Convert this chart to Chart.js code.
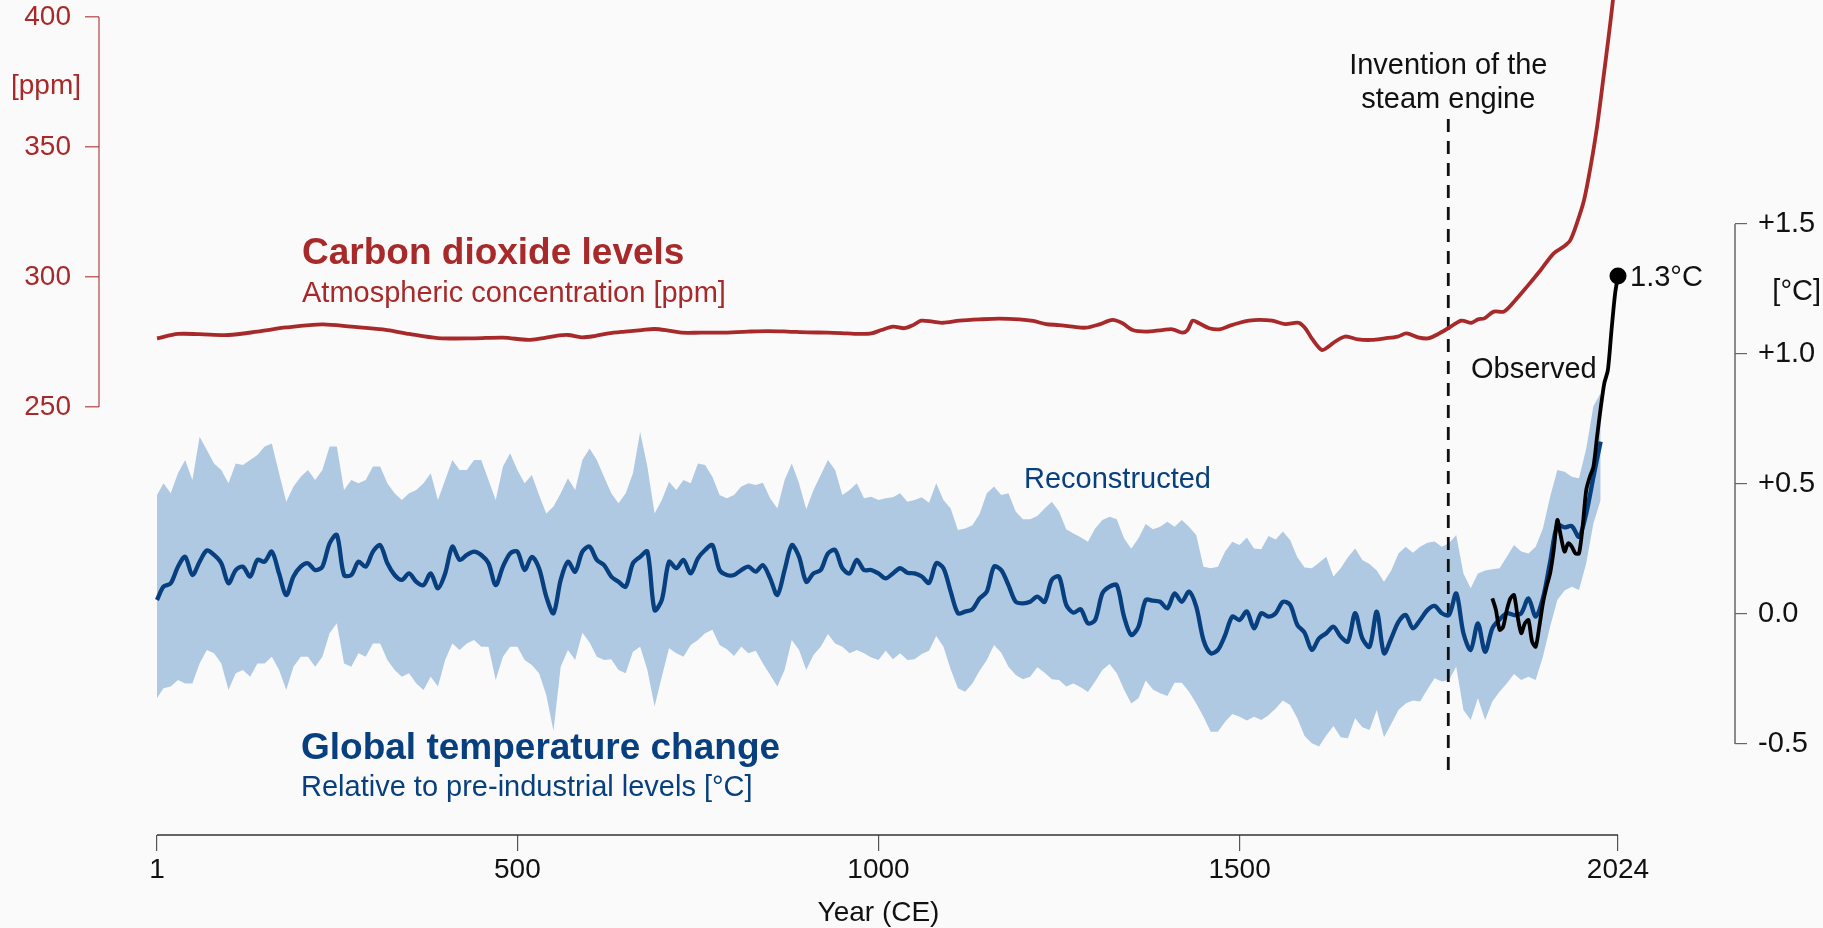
<!DOCTYPE html>
<html>
<head>
<meta charset="utf-8">
<title>Carbon dioxide levels and global temperature change</title>
<script src="https://cdn.jsdelivr.net/npm/chart.js@4.4.1/dist/chart.umd.min.js"></script>
<style>
	html,body{margin:0;padding:0;background:#fafafa;}
	#grafico{display:block;}
</style>
</head>
<body>
<canvas id="grafico" width="1823" height="928"></canvas>
<script>
// reconstruction, read every 10 years off the picture
const reconYears = [1,10,20,30,40,50,60,70,80,90,
	100,110,120,130,140,150,160,170,180,190,200,210,220,230,240,250,260,270,280,290,
	300,310,320,330,340,350,360,370,380,390,400,410,420,430,440,450,460,470,480,490,
	500,510,520,530,540,550,560,570,580,590,600,610,620,630,640,650,660,670,680,690,
	700,710,720,730,740,750,760,770,780,790,800,810,820,830,840,850,860,870,880,890,
	900,910,920,930,940,950,960,970,980,990,1000,1010,1020,1030,1040,1050,1060,1070,1080,1090,
	1100,1110,1120,1130,1140,1150,1160,1170,1180,1190,1200,1210,1220,1230,1240,1250,1260,1270,1280,1290,
	1300,1310,1320,1330,1340,1350,1360,1370,1380,1390,1400,1410,1420,1430,1440,1450,1460,1470,1480,1490,
	1500,1510,1520,1530,1540,1550,1560,1570,1580,1590,1600,1610,1620,1630,1640,1650,1660,1670,1680,1690,
	1700,1710,1720,1730,1740,1750,1760,1770,1780,1790,1800,1810,1820,1830,1840,1850,1860,1870,1880,1890,
	1900,1910,1920,1930,1940,1950,1960,1970,1980,1990,2000];

const reconMean = [0.054,0.105,0.118,0.182,0.220,0.150,0.201,0.244,0.227,0.195,
	0.118,0.169,0.182,0.144,0.208,0.201,0.240,0.156,0.073,0.144,
	0.182,0.195,0.169,0.182,0.272,0.304,0.150,0.150,0.201,0.182,
	0.240,0.265,0.195,0.150,0.131,0.156,0.124,0.111,0.156,0.099,
	0.156,0.259,0.208,0.227,0.240,0.227,0.195,0.111,0.182,0.233,
	0.240,0.169,0.220,0.176,0.067,0.003,0.131,0.201,0.163,0.240,
	0.259,0.208,0.188,0.144,0.124,0.105,0.195,0.220,0.240,0.015,
	0.054,0.201,0.176,0.208,0.156,0.214,0.246,0.265,0.169,0.150,
	0.150,0.169,0.182,0.163,0.188,0.137,0.073,0.169,0.265,0.220,
	0.124,0.156,0.169,0.233,0.246,0.176,0.156,0.208,0.169,0.169,
	0.156,0.137,0.156,0.176,0.159,0.156,0.144,0.120,0.195,0.176,
	0.086,0.003,0.009,0.018,0.060,0.086,0.182,0.169,0.111,0.047,
	0.041,0.047,0.067,0.047,0.131,0.144,0.035,0.005,0.018,-0.036,
	-0.023,0.079,0.105,0.111,-0.010,-0.081,-0.049,0.054,0.051,0.047,
	0.022,0.079,0.047,0.086,0.028,-0.100,-0.151,-0.138,-0.081,-0.010,
	-0.023,0.010,-0.055,0.003,-0.010,0.003,0.047,0.035,-0.042,-0.072,
	-0.138,-0.094,-0.074,-0.049,-0.087,-0.106,0.003,-0.094,-0.126,0.009,
	-0.151,-0.094,-0.030,-0.004,-0.055,-0.023,0.015,0.031,0.003,-0.004,
	0.079,-0.074,-0.138,-0.036,-0.145,-0.055,-0.021,0.003,-0.004,0.003,
	0.060,-0.010,0.060,0.200,0.342,0.333,0.338,0.297,0.387,0.528,
	0.663];

const reconUpper = [0.458,0.503,0.464,0.541,0.592,0.515,0.682,0.631,0.579,0.554,
	0.503,0.579,0.573,0.592,0.612,0.644,0.656,0.541,0.432,0.490,
	0.528,0.554,0.515,0.554,0.644,0.644,0.477,0.515,0.503,0.515,
	0.567,0.567,0.503,0.464,0.438,0.464,0.477,0.503,0.541,0.438,
	0.515,0.592,0.554,0.554,0.592,0.592,0.515,0.438,0.567,0.618,
	0.554,0.503,0.535,0.458,0.387,0.413,0.464,0.522,0.477,0.592,
	0.637,0.592,0.528,0.464,0.426,0.464,0.541,0.700,0.567,0.387,
	0.438,0.509,0.477,0.515,0.503,0.579,0.573,0.528,0.458,0.445,
	0.458,0.490,0.503,0.496,0.505,0.445,0.406,0.515,0.579,0.503,
	0.403,0.477,0.535,0.592,0.554,0.458,0.477,0.503,0.445,0.451,
	0.438,0.445,0.449,0.464,0.432,0.438,0.449,0.428,0.503,0.438,
	0.406,0.323,0.329,0.341,0.385,0.464,0.490,0.458,0.464,0.394,
	0.364,0.364,0.377,0.406,0.432,0.394,0.326,0.310,0.295,0.278,
	0.329,0.362,0.374,0.364,0.291,0.251,0.291,0.346,0.326,0.336,
	0.355,0.336,0.362,0.336,0.304,0.182,0.176,0.182,0.240,0.278,
	0.265,0.294,0.252,0.249,0.300,0.287,0.317,0.285,0.218,0.179,
	0.176,0.197,0.220,0.144,0.176,0.218,0.252,0.208,0.192,0.167,
	0.124,0.167,0.233,0.259,0.236,0.259,0.274,0.279,0.259,0.272,
	0.304,0.156,0.099,0.156,0.167,0.172,0.176,0.220,0.265,0.240,
	0.233,0.259,0.329,0.451,0.554,0.547,0.528,0.522,0.637,0.800,
	0.850];

const reconLower = [-0.324,-0.286,-0.279,-0.254,-0.267,-0.267,-0.190,-0.138,-0.151,-0.190,
	-0.292,-0.228,-0.215,-0.241,-0.190,-0.190,-0.164,-0.215,-0.292,-0.203,
	-0.164,-0.164,-0.203,-0.164,-0.074,-0.036,-0.190,-0.203,-0.151,-0.164,
	-0.113,-0.113,-0.177,-0.215,-0.241,-0.228,-0.267,-0.292,-0.241,-0.279,
	-0.177,-0.113,-0.138,-0.113,-0.100,-0.126,-0.126,-0.254,-0.164,-0.126,
	-0.126,-0.177,-0.196,-0.228,-0.312,-0.450,-0.203,-0.138,-0.177,-0.072,
	-0.110,-0.164,-0.177,-0.174,-0.215,-0.228,-0.145,-0.126,-0.215,-0.356,
	-0.241,-0.132,-0.151,-0.164,-0.119,-0.100,-0.074,-0.061,-0.119,-0.136,
	-0.162,-0.126,-0.151,-0.141,-0.190,-0.235,-0.279,-0.215,-0.100,-0.138,
	-0.215,-0.158,-0.126,-0.077,-0.113,-0.126,-0.151,-0.138,-0.151,-0.167,
	-0.177,-0.141,-0.174,-0.151,-0.177,-0.174,-0.154,-0.141,-0.085,-0.126,
	-0.213,-0.286,-0.299,-0.267,-0.218,-0.177,-0.119,-0.149,-0.203,-0.235,
	-0.251,-0.241,-0.205,-0.226,-0.251,-0.254,-0.279,-0.267,-0.282,-0.300,
	-0.260,-0.215,-0.192,-0.228,-0.290,-0.344,-0.324,-0.256,-0.290,-0.305,
	-0.315,-0.264,-0.264,-0.299,-0.344,-0.395,-0.453,-0.453,-0.414,-0.385,
	-0.395,-0.410,-0.395,-0.408,-0.389,-0.363,-0.333,-0.350,-0.401,-0.469,
	-0.497,-0.510,-0.467,-0.431,-0.474,-0.478,-0.401,-0.436,-0.446,-0.369,
	-0.474,-0.423,-0.369,-0.344,-0.333,-0.337,-0.290,-0.247,-0.260,-0.254,
	-0.203,-0.369,-0.408,-0.324,-0.408,-0.337,-0.299,-0.267,-0.231,-0.254,
	-0.241,-0.254,-0.164,-0.049,0.054,0.090,0.105,0.092,0.195,0.349,
	0.438];

// instrumental record
const obsYears = [1850,1855,1860,1865,1870,1875,1880,1885,1890,1895,1900,1905,1910,1915,1920,1925,1930,1935,
	1940,1945,1950,1955,1960,1965,1970,1975,1980,1985,1990,1995,2000,2005,2010,2015,2020,2024];
const obsTemp = [0.060,0.015,-0.061,-0.049,0.015,0.060,0.073,-0.010,-0.074,-0.036,-0.023,-0.106,-0.126,-0.049,
	0.041,0.105,0.156,0.246,0.362,0.297,0.240,0.272,0.259,0.233,0.233,0.336,0.477,0.528,0.567,0.682,
	0.791,0.887,0.938,1.092,1.233,1.300];

// atmospheric CO2 [ppm]
const co2Years = [1,30,60,100,140,180,230,270,320,350,390,440,480,515,533,552,570,589,607,626,649,672,690,709,727,
	754,782,819,847,874,902,930,957,976,990,1004,1020,1036,1048,1059,1075,1089,1112,1140,1167,1195,1214,1232,1250,
	1269,1287,1306,1324,1338,1352,1370,1393,1407,1421,1428,1435,1444,1458,1472,1486,1500,1513,1527,1545,1563,1582,
	1591,1600,1614,1623,1632,1646,1664,1683,1701,1719,1731,1747,1761,1775,1789,1807,1821,1830,1839,1852,1866,1880,
	1898,1917,1935,1949,1958,1967,1977,1986,1995,2004,2011,2016,2020,2024];
const co2Ppm = [276.4,278.1,278.0,277.7,279.0,280.6,281.8,280.9,279.6,278.1,276.5,276.4,276.7,275.8,276.4,277.3,277.7,
	276.8,277.3,278.3,279.0,279.6,280.0,279.4,278.6,278.6,278.6,279.0,279.2,279.0,278.7,278.6,278.3,278.1,278.3,279.6,
	280.9,280.3,281.5,283.2,282.8,282.4,283.2,283.7,284.0,283.7,283.1,281.9,281.5,280.9,280.5,281.8,283.5,282.2,279.6,
	279.0,279.6,279.9,278.6,279.6,283.2,282.2,280.3,279.9,281.2,282.4,283.2,283.5,283.2,281.9,282.4,280.3,276.4,271.9,
	273.2,275.1,277.1,276.0,275.8,276.4,277.1,278.3,276.8,276.4,278.1,280.3,283.2,282.4,283.7,284.1,286.7,286.7,290.5,
	296.3,302.7,309.1,311.7,314.2,320.6,329.6,342.4,357.8,377.0,392.4,404.0,414.0,421.0];

const xTicks = [1,500,1000,1500,2024];
const co2Ticks = [250,300,350,400];
const tempTicks = [-0.5,0,0.5,1,1.5];
const steamYear = 1789;
const steamSpan = [-0.6,1.91];

const fuente = "'Liberation Sans', Arial, Helvetica, sans-serif";
const rojo = '#a8292a';
const azul = '#083f7e';
const banda = '#b0c9e3';

function puntos(xs, ys){
	return xs.map((v,i)=>({x:v, y:ys[i]}));
}

let fondo = {
	id:'fondo',
	beforeDraw(chart){
		let ctx = chart.ctx;
		ctx.save();
		ctx.fillStyle = '#fafafa';
		ctx.fillRect(0,0,chart.width,chart.height);
		ctx.restore();
	}
};

// axis lines only span the tick range, plus all the annotations
let rotulos = {
	id:'rotulos',
	afterDraw(chart){
		let ctx = chart.ctx;
		let a = chart.chartArea;
		let sx = chart.scales.x, sc = chart.scales.co2, st = chart.scales.temp;
		ctx.save();
		ctx.lineWidth = 1.5;
		ctx.strokeStyle = 'rgba(168,41,42,0.7)';
		ctx.beginPath();
		ctx.moveTo(a.left, sc.getPixelForValue(400));
		ctx.lineTo(a.left, sc.getPixelForValue(250));
		ctx.stroke();
		ctx.strokeStyle = '#666';
		ctx.beginPath();
		ctx.moveTo(a.right, st.getPixelForValue(1.5));
		ctx.lineTo(a.right, st.getPixelForValue(-0.5));
		ctx.stroke();
		ctx.strokeStyle = '#333';
		ctx.beginPath();
		ctx.moveTo(sx.getPixelForValue(1), a.bottom);
		ctx.lineTo(sx.getPixelForValue(2024), a.bottom);
		ctx.stroke();

		ctx.textBaseline = 'alphabetic';
		ctx.textAlign = 'left';
		ctx.fillStyle = rojo;
		ctx.font = 'bold 37px ' + fuente;
		ctx.fillText('Carbon dioxide levels', 302, 264);
		ctx.font = '29px ' + fuente;
		ctx.fillText('Atmospheric concentration [ppm]', 302, 302);
		ctx.textAlign = 'center';
		ctx.font = '28px ' + fuente;
		ctx.fillText('[ppm]', 46, 94);

		ctx.textAlign = 'left';
		ctx.fillStyle = azul;
		ctx.font = 'bold 37px ' + fuente;
		ctx.fillText('Global temperature change', 301, 759);
		ctx.font = '29px ' + fuente;
		ctx.fillText('Relative to pre-industrial levels [°C]', 301, 796);
		ctx.fillText('Reconstructed', 1024, 488);

		ctx.fillStyle = '#111';
		ctx.fillText('Observed', 1471, 378);
		ctx.fillText('1.3°C', sx.getPixelForValue(2024) + 12, st.getPixelForValue(1.3) + 10);
		ctx.textAlign = 'right';
		ctx.fillText('[°C]', 1821, 300);
		ctx.textAlign = 'center';
		let xs = sx.getPixelForValue(steamYear);
		ctx.fillText('Invention of the', xs, 74);
		ctx.fillText('steam engine', xs, 108);
		ctx.font = '28px ' + fuente;
		ctx.fillText('Year (CE)', sx.getPixelForValue(1000), 921);
		ctx.restore();
	}
};

function graficar(){
	let canvas = document.getElementById('grafico').getContext('2d');
	let ultimo = obsYears.length - 1;
	let datos = {
		datasets:[
			{
				label:'CO2',
				data:puntos(co2Years, co2Ppm),
				yAxisID:'co2',
				borderColor:rojo,
				borderWidth:3.8,
				pointRadius:0,
				tension:0.3,
				order:1
			},
			{
				label:'Observed',
				data:puntos(obsYears, obsTemp),
				yAxisID:'temp',
				borderColor:'#000',
				borderWidth:3.8,
				pointRadius:function(c){ return c.dataIndex === ultimo ? 8.5 : 0; },
				pointBackgroundColor:'#000',
				pointBorderWidth:0,
				tension:0.25,
				order:2
			},
			{
				label:'Reconstructed',
				data:puntos(reconYears, reconMean),
				yAxisID:'temp',
				borderColor:azul,
				borderWidth:4.3,
				pointRadius:0,
				tension:0.3,
				order:3
			},
			{
				label:'Steam engine',
				data:[{x:steamYear, y:steamSpan[0]}, {x:steamYear, y:steamSpan[1]}],
				yAxisID:'temp',
				borderColor:'#111',
				borderWidth:2.8,
				borderDash:[13,9],
				pointRadius:0,
				order:4
			},
			{
				label:'Upper',
				data:puntos(reconYears, reconUpper),
				yAxisID:'temp',
				borderColor:'rgba(0,0,0,0)',
				borderWidth:0,
				backgroundColor:banda,
				fill:'+1',
				pointRadius:0,
				tension:0,
				order:5
			},
			{
				label:'Lower',
				data:puntos(reconYears, reconLower),
				yAxisID:'temp',
				borderColor:'rgba(0,0,0,0)',
				borderWidth:0,
				fill:false,
				pointRadius:0,
				tension:0,
				order:6
			}
		]
	};

	let sinPadding = function(s){
		s.paddingTop = 0; s.paddingBottom = 0; s.paddingLeft = 0; s.paddingRight = 0;
	};

	let opciones = {
		responsive:false,
		animation:false,
		events:[],
		layout:{padding:0, autoPadding:false},
		plugins:{legend:{display:false}, tooltip:{enabled:false}},
		scales:{
			x:{
				type:'linear',
				min:-79.31,
				max:2186.0,
				afterBuildTicks:function(s){ s.ticks = xTicks.map(v=>({value:v})); },
				afterFit:function(s){ s.height = 93; sinPadding(s); },
				border:{display:false},
				grid:{drawOnChartArea:false, drawTicks:true, tickLength:16, color:'#555', lineWidth:1.2},
				ticks:{
					autoSkip:false, maxRotation:0, padding:2, color:'#111',
					font:{family:fuente, size:28},
					callback:function(v){ return String(v); }
				}
			},
			co2:{
				type:'linear',
				position:'left',
				min:85.39,
				max:406.54,
				afterBuildTicks:function(s){ s.ticks = co2Ticks.map(v=>({value:v})); },
				afterFit:function(s){ s.width = 99; sinPadding(s); },
				border:{display:false},
				grid:{drawOnChartArea:false, drawTicks:true, tickLength:14, color:'rgba(168,41,42,0.7)', lineWidth:1.5},
				ticks:{
					autoSkip:false, padding:14, color:rojo,
					font:{family:fuente, size:28},
					callback:function(v){ return String(v); }
				}
			},
			temp:{
				type:'linear',
				position:'right',
				min:-0.85,
				max:2.3615,
				afterBuildTicks:function(s){ s.ticks = tempTicks.map(v=>({value:v})); },
				afterFit:function(s){ s.width = 88; sinPadding(s); },
				border:{display:false},
				grid:{drawOnChartArea:false, drawTicks:true, tickLength:12, color:'#666', lineWidth:1.2},
				ticks:{
					autoSkip:false, padding:11, color:'#111',
					font:{family:fuente, size:29},
					callback:function(v){
						if(v === 0) return '0.0';
						return (v > 0 ? '+' : '') + v.toFixed(1);
					}
				}
			}
		}
	};

	let G1 = new Chart(canvas,{
		type:'line',
		data:datos,
		options:opciones,
		plugins:[fondo, rotulos]
	});
}

graficar();
</script>
</body>
</html>
